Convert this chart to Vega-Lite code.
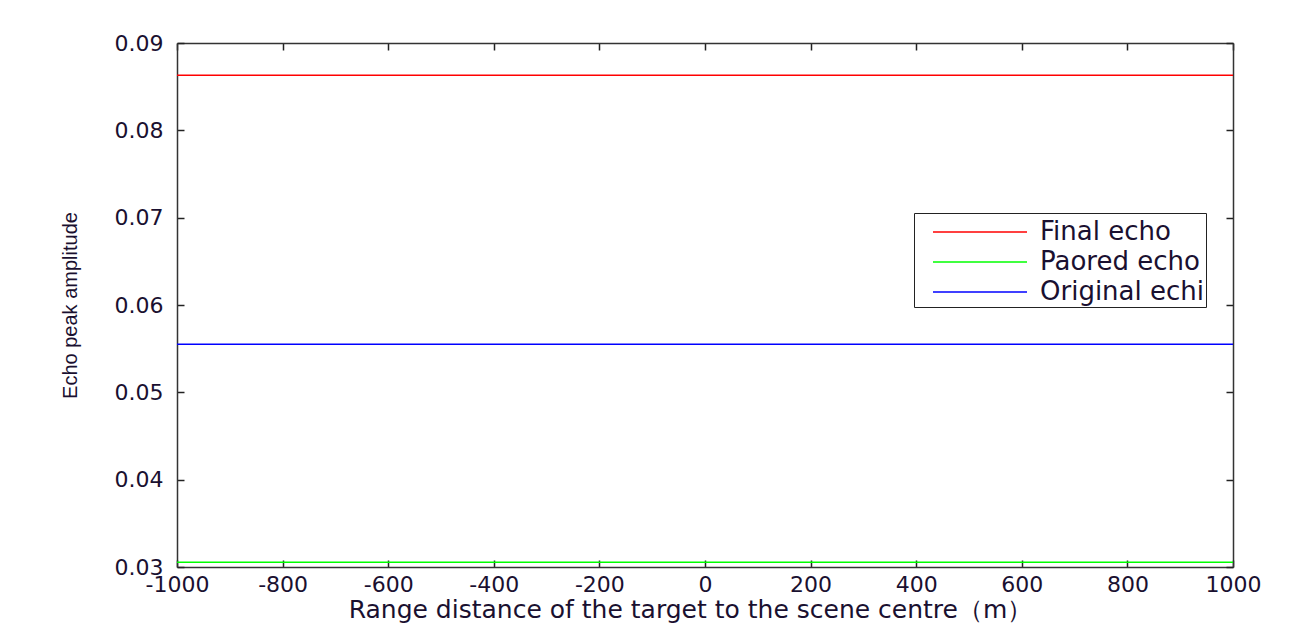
{
  "$schema": "https://vega.github.io/schema/vega-lite/v6.json",
  "width": 1056,
  "height": 524,
  "autosize": "none",
  "padding": {"left": 177, "top": 43, "right": 82, "bottom": 60},
  "background": "white",
  "config": {
    "view": {"stroke": null},
    "axis": {
      "grid": false,
      "domainColor": "#333333",
      "domainWidth": 1.5,
      "tickColor": "#222222",
      "tickWidth": 1.5,
      "tickSize": -7,
      "labelFont": "DejaVu Sans",
      "labelFontSize": 22,
      "labelColor": "#1a1030",
      "titleColor": "#1a1030",
      "titleFontWeight": "normal"
    }
  },
  "data": {
    "values": [
      {"x": -1000, "y": 0.0863, "series": "Final echo"},
      {"x": -600, "y": 0.0863, "series": "Final echo"},
      {"x": -200, "y": 0.0863, "series": "Final echo"},
      {"x": 200, "y": 0.0863, "series": "Final echo"},
      {"x": 600, "y": 0.0863, "series": "Final echo"},
      {"x": 1000, "y": 0.0863, "series": "Final echo"},
      {"x": -1000, "y": 0.03055, "series": "Paored echo"},
      {"x": -600, "y": 0.03055, "series": "Paored echo"},
      {"x": -200, "y": 0.03055, "series": "Paored echo"},
      {"x": 200, "y": 0.03055, "series": "Paored echo"},
      {"x": 600, "y": 0.03055, "series": "Paored echo"},
      {"x": 1000, "y": 0.03055, "series": "Paored echo"},
      {"x": -1000, "y": 0.0555, "series": "Original echi"},
      {"x": -600, "y": 0.0555, "series": "Original echi"},
      {"x": -200, "y": 0.0555, "series": "Original echi"},
      {"x": 200, "y": 0.0555, "series": "Original echi"},
      {"x": 600, "y": 0.0555, "series": "Original echi"},
      {"x": 1000, "y": 0.0555, "series": "Original echi"}
    ]
  },
  "layer": [
    {
      "mark": {"type": "line", "strokeWidth": 1.5},
      "encoding": {
        "x": {
          "field": "x", "type": "quantitative",
          "scale": {"domain": [-1000, 1000], "nice": false},
          "axis": {
            "orient": "bottom",
            "values": [-1000, -800, -600, -400, -200, 0, 200, 400, 600, 800, 1000],
            "labelExpr": "toString(datum.value)",
            "labelPadding": 14,
            "labelFlush": false,
            "title": "Range distance of the target to the scene centre（m）",
            "titleFont": "DejaVu Sans",
            "titleFontSize": 25,
            "titlePadding": 2,
            "titleX": 513
          }
        },
        "y": {
          "field": "y", "type": "quantitative",
          "scale": {"domain": [0.03, 0.09], "nice": false, "zero": false},
          "axis": {
            "orient": "left",
            "values": [0.03, 0.04, 0.05, 0.06, 0.07, 0.08, 0.09],
            "format": ".2f",
            "labelPadding": 21,
            "labelFlush": false,
            "title": "Echo peak amplitude",
            "titleFont": "Liberation Sans",
            "titleFontSize": 20,
            "titlePadding": 34
          }
        },
        "color": {
          "field": "series", "type": "nominal",
          "scale": {
            "domain": ["Final echo", "Paored echo", "Original echi"],
            "range": ["#ff0000", "#00ff00", "#0000ff"]
          },
          "legend": {
            "title": null,
            "orient": "none",
            "legendX": 737,
            "legendY": 170,
            "symbolType": "M-2.9375,0H2.9375",
            "symbolSize": 1024,
            "symbolStrokeWidth": 1.5,
            "symbolOffset": 47,
            "labelFont": "DejaVu Sans",
            "labelFontSize": 26,
            "labelLimit": 400,
            "labelColor": "#1a1030",
            "labelOffset": 43,
            "strokeColor": "#222222",
            "fillColor": "white",
            "padding": 2,
            "rowPadding": 0
          }
        }
      }
    },
    {
      "mark": {"type": "line", "opacity": 0},
      "encoding": {
        "x": {
          "field": "x", "type": "quantitative",
          "scale": {"domain": [-1000, 1000], "nice": false},
          "axis": {
            "orient": "top",
            "values": [-1000, -800, -600, -400, -200, 0, 200, 400, 600, 800, 1000],
            "labels": false,
            "title": null
          }
        },
        "y": {
          "field": "y", "type": "quantitative",
          "scale": {"domain": [0.03, 0.09], "nice": false, "zero": false},
          "axis": {
            "orient": "right",
            "values": [0.03, 0.04, 0.05, 0.06, 0.07, 0.08, 0.09],
            "labels": false,
            "title": null
          }
        },
        "detail": {"field": "series"}
      }
    }
  ],
  "resolve": {"axis": {"x": "independent", "y": "independent"}}
}
